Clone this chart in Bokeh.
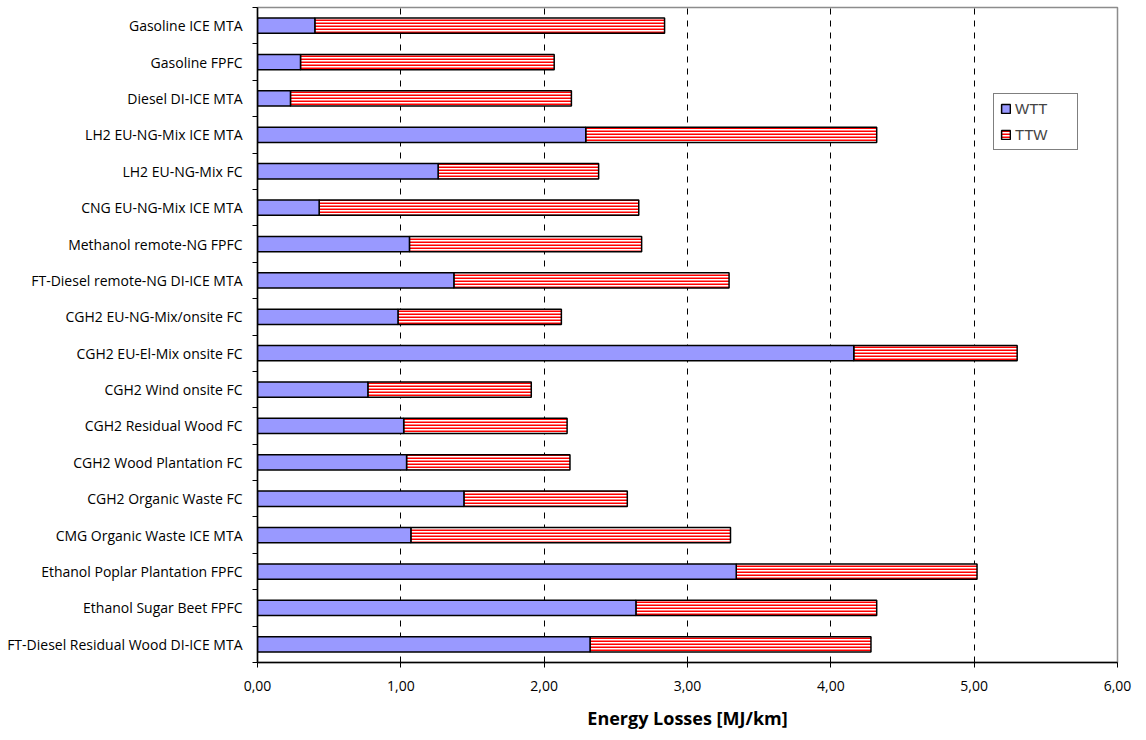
from bokeh.plotting import figure
from bokeh.models import FixedTicker, Range1d, Legend, LegendItem, ColumnDataSource, Grid
from bokeh.embed import file_html
from bokeh.resources import INLINE

categories = [
    "Gasoline ICE MTA",
    "Gasoline FPFC",
    "Diesel DI-ICE MTA",
    "LH2 EU-NG-Mix ICE MTA",
    "LH2 EU-NG-Mix FC",
    "CNG EU-NG-Mix ICE MTA",
    "Methanol remote-NG FPFC",
    "FT-Diesel remote-NG DI-ICE MTA",
    "CGH2 EU-NG-Mix/onsite FC",
    "CGH2 EU-El-Mix onsite FC",
    "CGH2 Wind onsite FC",
    "CGH2 Residual Wood FC",
    "CGH2 Wood Plantation FC",
    "CGH2 Organic Waste FC",
    "CMG Organic Waste ICE MTA",
    "Ethanol Poplar Plantation FPFC",
    "Ethanol Sugar Beet FPFC",
    "FT-Diesel Residual Wood DI-ICE MTA",
]
wtt = [0.40, 0.30, 0.23, 2.29, 1.26, 0.43, 1.06, 1.37, 0.98, 4.16,
       0.77, 1.02, 1.04, 1.44, 1.07, 3.34, 2.64, 2.32]
ttw = [2.44, 1.77, 1.96, 2.03, 1.12, 2.23, 1.62, 1.92, 1.14, 1.14,
       1.14, 1.14, 1.14, 1.14, 2.23, 1.68, 1.68, 1.96]
x_ticks = [0, 1, 2, 3, 4, 5, 6]
x_tick_labels = ["0,00", "1,00", "2,00", "3,00", "4,00", "5,00", "6,00"]

n = len(categories)
ypos = [n - 1 - i for i in range(n)]
src = ColumnDataSource(dict(
    y=ypos, cat=categories, wtt=wtt,
    total=[a + b for a, b in zip(wtt, ttw)],
))

FONT = "Open Sans"

p = figure(width=1138, height=732, output_backend="svg", toolbar_location=None,
           x_range=Range1d(0, 6), y_range=Range1d(-0.5, n - 0.5),
           min_border_left=257, min_border_right=21, min_border_top=7,
           min_border_bottom=69)
p.background_fill_color = "white"
p.border_fill_color = "white"
p.outline_line_color = "#8c8c8c"
p.outline_line_width = 1.5

r_wtt = p.hbar(y="y", left=0, right="wtt", height=0.42, source=src,
               fill_color="#9999FF", line_color="black", line_width=1.5)
r_ttw = p.hbar(y="y", left="wtt", right="total", height=0.42, source=src,
               fill_color="white", line_color="black", line_width=1.5,
               hatch_pattern="horizontal_line", hatch_color="#FF0000",
               hatch_scale=3, hatch_weight=2)

# grid
p.xgrid.visible = False
p.ygrid.visible = False
g = Grid(dimension=0, ticker=FixedTicker(ticks=[1, 2, 3, 4, 5]),
         grid_line_color="black", grid_line_dash="6 6", grid_line_width=1)
p.add_layout(g)
p.renderers.insert(0, p.renderers.pop())

# x axis
xa = p.xaxis[0]
xa.ticker = FixedTicker(ticks=x_ticks)
xa.major_label_overrides = {t: l for t, l in zip(x_ticks, x_tick_labels)}
xa.axis_line_color = "black"
xa.axis_line_width = 1.5
xa.major_tick_line_color = "black"
xa.major_tick_out = 5
xa.major_tick_in = 0
xa.minor_tick_line_color = None
xa.major_label_text_font = FONT
xa.major_label_text_font_size = "14px"
xa.major_label_text_color = "black"
xa.major_label_standoff = 13
xa.axis_label = "Energy Losses [MJ/km]"
xa.axis_label_text_font = FONT
xa.axis_label_text_font_style = "bold"
xa.axis_label_text_font_size = "18px"
xa.axis_label_text_color = "black"
xa.axis_label_standoff = 12

# y axis
ya = p.yaxis[0]
ya.ticker = FixedTicker(ticks=ypos, minor_ticks=[k - 0.5 for k in range(n + 1)])
ya.major_label_overrides = {y: c for y, c in zip(ypos, categories)}
ya.axis_line_color = "black"
ya.axis_line_width = 1.5
ya.major_tick_line_color = None
ya.major_tick_out = 0
ya.major_tick_in = 0
ya.minor_tick_line_color = "black"
ya.minor_tick_out = 5
ya.minor_tick_in = 0
ya.major_label_text_font = FONT
ya.major_label_text_font_size = "14px"
ya.major_label_text_color = "black"
ya.major_label_standoff = 10

legend = Legend(items=[LegendItem(label="WTT", renderers=[r_wtt]),
                       LegendItem(label="TTW", renderers=[r_ttw])],
                location=(736, 512), orientation="vertical",
                label_text_font="Liberation Sans", label_text_font_size="15px",
                glyph_width=11, glyph_height=11, label_height=17, label_width=56,
                label_standoff=4, spacing=9, padding=6, margin=0,
                border_line_color="black", border_line_width=1,
                background_fill_color="white", background_fill_alpha=1)
p.add_layout(legend, "center")

open("out.html", "w").write(file_html(p, INLINE))
